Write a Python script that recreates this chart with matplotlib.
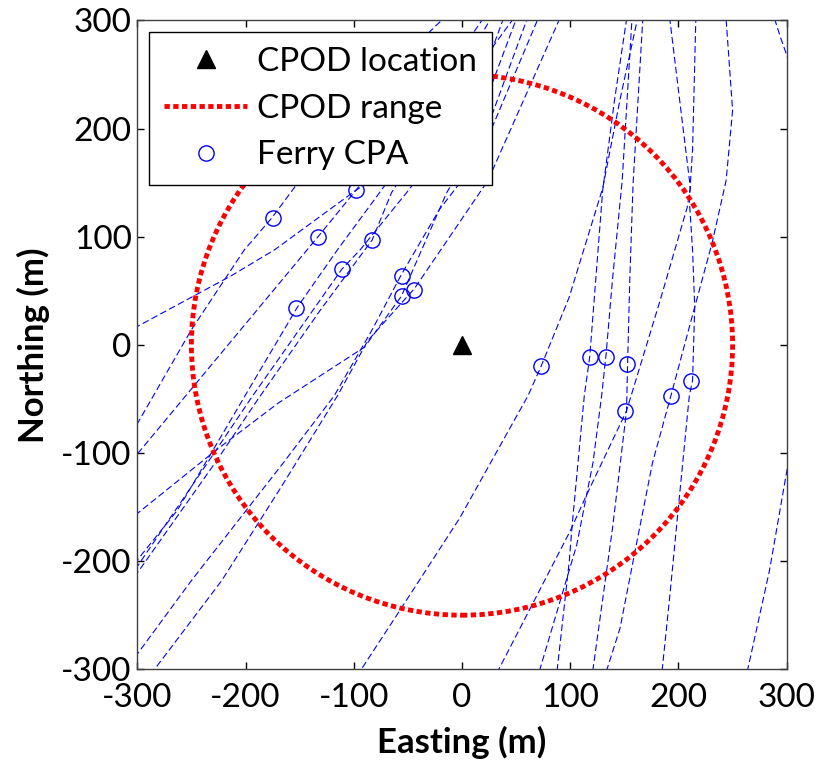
import matplotlib
matplotlib.use("Agg")
import matplotlib.pyplot as plt
from matplotlib.patches import Circle
from matplotlib.lines import Line2D

plt.rcParams['font.family'] = ['Lato', 'DejaVu Sans']
plt.rcParams['axes.unicode_minus'] = False

# CPOD position and detection range (m)
cpod_x = [0]
cpod_y = [0]
cpod_range = 250

# closest point of approach for each ferry track
cpa_x = [-175, -133, -83, -111, -153, -55, -55, -44, -98, 73, 118, 133, 152, 151, 193, 212]
cpa_y = [117, 100, 97, 70, 34, 64, 45, 51, 143, -20, -11, -11, -18, -61, -47, -33]

# ferry tracks (easting, northing)
track_c9_x = [-334, -300, -213, -173, -98, -39, 16, 50, 55]
track_c9_y = [-5, 17, 64, 88, 143, 180, 210, 301, 319]
track_c1_x = [-345, -300, -250, -201, -176, -150, -76, -18, -2]
track_c1_y = [-144, -73, 14, 88, 117, 152, 245, 301, 319]
track_c2_x = [-334, -300, -143, -133, -98, -39, 19, 30]
track_c2_y = [-144, -101, 88, 100, 143, 217, 301, 319]
track_c5_x = [-325, -300, -263, -231, -201, -152, -115, -76, -21, 26, 35]
track_c5_y = [-232, -199, -153, -99, -48, 35, 88, 141, 217, 301, 319]
track_c4_x = [-325, -300, -231, -194, -111, -94, -51, 7, 38, 44]
track_c4_y = [-236, -205, -103, -48, 70, 88, 141, 217, 301, 319]
track_c3_x = [-325, -300, -228, -189, -131, -83, -65, -21, 47, 53]
track_c3_y = [-244, -211, -109, -51, 32, 97, 141, 208, 301, 319]
track_c7_x = [-334, -300, -228, -170, -90, -56, -14, 26, 60, 64]
track_c7_y = [-176, -156, -98, -54, -2, 45, 141, 208, 301, 319]
track_c6_x = [-325, -300, -250, -165, -118, -83, -56, -21, 16, 70, 77]
track_c6_y = [-318, -286, -218, -109, -47, 14, 65, 125, 173, 301, 319]
track_c8_x = [-298, -284, -222, -168, -115, -87, -44, 24, 90, 98]
track_c8_y = [-320, -300, -218, -133, -47, 4, 52, 152, 301, 319]
track_c10_x = [-113, -93, -59, -2, 61, 73, 99, 130, 146, 162, 166]
track_c10_y = [-329, -300, -248, -160, -47, -20, 44, 145, 227, 301, 319]
track_c11_x = [86, 88, 99, 102, 113, 118, 130, 141, 152, 154]
track_c11_y = [-329, -300, -201, -164, -47, -11, 143, 227, 301, 319]
track_c12_x = [67, 72, 106, 121, 129, 133, 139, 148, 157, 158]
track_c12_y = [-329, -300, -185, -109, -47, -10, 60, 152, 301, 319]
track_c13_x = [118, 121, 139, 152, 153, 155, 158, 167, 169]
track_c13_y = [-329, -300, -170, -61, -17, 60, 148, 301, 319]
track_c14_x = [21, 34, 100, 115, 152, 183, 208, 211, 201, 192, 190]
track_c14_y = [-329, -300, -172, -139, -61, 41, 127, 145, 227, 301, 319]
track_c15_x = [127, 134, 146, 161, 176, 193, 215, 231, 244, 250, 244, 243]
track_c15_y = [-329, -300, -262, -185, -109, -47, 35, 94, 152, 217, 301, 319]
track_c16_x = [182, 185, 192, 201, 210, 213, 215, 213, 210, 213, 216, 217]
track_c16_y = [-329, -300, -232, -139, -47, -33, 35, 88, 134, 180, 301, 319]
track_e1_x = [256, 264, 284, 300, 312]
track_e1_y = [-329, -300, -209, -117, -51]
track_e2_x = [282, 289, 294, 300, 309]
track_e2_y = [319, 301, 285, 268, 240]

tracks = [
    (track_c9_x, track_c9_y), (track_c1_x, track_c1_y), (track_c2_x, track_c2_y),
    (track_c5_x, track_c5_y), (track_c4_x, track_c4_y), (track_c3_x, track_c3_y),
    (track_c7_x, track_c7_y), (track_c6_x, track_c6_y), (track_c8_x, track_c8_y),
    (track_c10_x, track_c10_y), (track_c11_x, track_c11_y), (track_c12_x, track_c12_y),
    (track_c13_x, track_c13_y), (track_c14_x, track_c14_y), (track_c15_x, track_c15_y),
    (track_c16_x, track_c16_y), (track_e1_x, track_e1_y), (track_e2_x, track_e2_y),
]

ticks = [-300, -200, -100, 0, 100, 200, 300]

fig = plt.figure(figsize=(8.19, 7.64), dpi=100)
ax = fig.add_axes([0.1676, 0.124, 0.7930, 0.8492])

# Fährrouten
for tx, ty in tracks:
    ax.plot(tx, ty, color='blue', lw=0.8, linestyle=(0, (6, 3)), zorder=2)

# CPA Punkte
ax.plot(cpa_x, cpa_y, linestyle='none', marker='o', markersize=11,
        markerfacecolor='none', markeredgecolor='blue', markeredgewidth=1.0, zorder=3)

# Reichweite
range_style = dict(color='red', lw=3.5, linestyle=(0, (1.1, 0.7)))
ax.add_patch(Circle((cpod_x[0], cpod_y[0]), cpod_range, fill=False,
                    edgecolor='red', lw=3.5, linestyle=(0, (1.1, 0.7)), zorder=4))

# CPOD
ax.plot(cpod_x, cpod_y, linestyle='none', marker='^', markersize=13, color='black', zorder=5)

ax.set_xlim(-300, 300)
ax.set_ylim(-300, 300)
ax.set_xticks(ticks)
ax.set_yticks(ticks)
ax.tick_params(direction='in', top=True, right=True, length=5, width=1, labelsize=24)
ax.tick_params(axis='x', pad=10)
ax.tick_params(axis='y', pad=4)
for s in ax.spines.values():
    s.set_linewidth(1.0)
    s.set_color('#404040')

ax.set_xlabel("Easting (m)", fontsize=25, fontweight='bold', labelpad=9)
ax.set_ylabel("Northing (m)", fontsize=25, fontweight='bold', labelpad=8)

handles = [
    Line2D([], [], linestyle='none', marker='^', markersize=13, color='black'),
    Line2D([], [], **range_style),
    Line2D([], [], linestyle='none', marker='o', markersize=11, markerfacecolor='none',
           markeredgecolor='blue', markeredgewidth=1.0),
]
leg = ax.legend(handles, ["CPOD location", "CPOD range", "Ferry CPA"],
                loc='upper left', bbox_to_anchor=(0.018, 0.982), fontsize=24,
                frameon=True, fancybox=False, framealpha=1, edgecolor='black',
                handlelength=2.5, handletextpad=0.3, labelspacing=0.5, borderpad=0.45,
                borderaxespad=0)
leg.get_frame().set_linewidth(1.0)
leg.set_zorder(10)

plt.savefig("out.png", dpi=100)
